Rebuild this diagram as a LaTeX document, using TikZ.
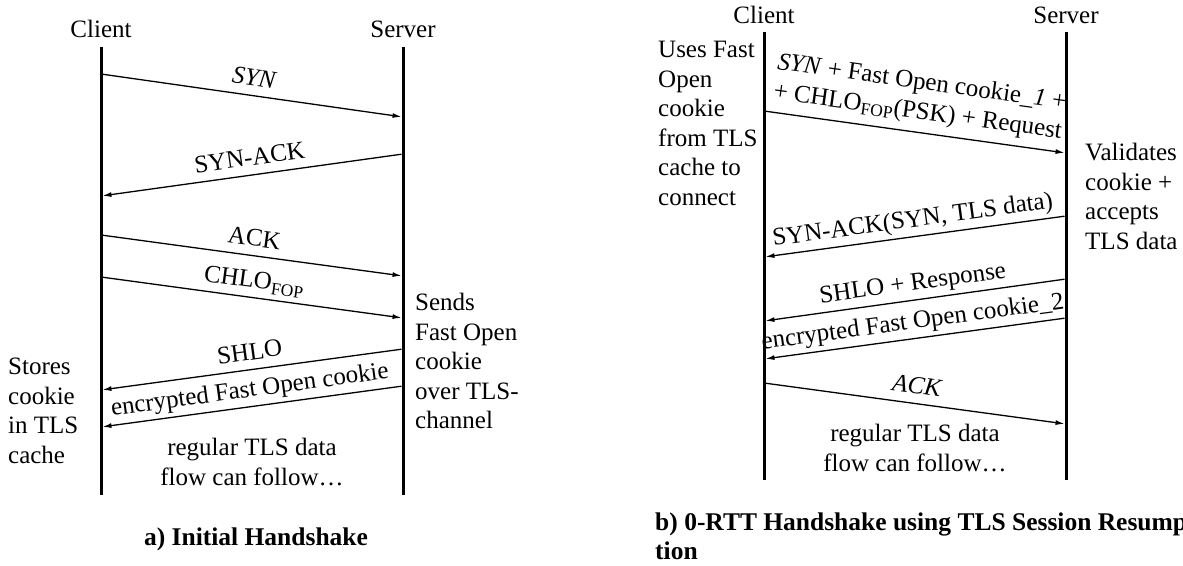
\documentclass[tikz,border=0pt]{standalone}
\usepackage{fontspec}
\setmainfont{Liberation Serif}
\usetikzlibrary{arrows.meta}

\begin{document}
\begin{tikzpicture}[x=1pt, y=-1pt,
    every node/.style={font=\fontsize{25}{29.5}\selectfont},
    party/.style={anchor=base, inner sep=0pt},
    lifeline/.style={line width=3pt},
    msg/.style={line width=1.3pt, shorten <=1.5pt, shorten >=1.5pt,
        -{Latex[length=9pt,width=5pt]}},
    msglabel/.style={sloped, above, inner sep=0pt, text depth=0pt, align=center},
    note/.style={anchor=north west, inner sep=0pt, align=left},
    flow/.style={anchor=north, inner sep=0pt, align=center},
    caption/.style={font=\fontsize{25.5}{29}\selectfont\bfseries, inner sep=0pt}]
    \useasboundingbox (0,0) rectangle (1183,565);

    % Draw parties for a) initial handshake
    \node[party] (aclient) at (101,37) {Client};
    \node[party] (aserver) at (403,37) {Server};
    \coordinate (actop) at (101,47);
    \coordinate (acbot) at (101,495);
    \coordinate (astop) at (403,47);
    \coordinate (asbot) at (403,495);
    \draw[lifeline] (actop) -- (acbot);
    \draw[lifeline] (astop) -- (asbot);

    % Message end points on the lifelines
    \coordinate (ac1) at (101,74);  \coordinate (as1) at (403,117);
    \coordinate (as2) at (403,154); \coordinate (ac2) at (101,196);
    \coordinate (ac3) at (101,235); \coordinate (as3) at (403,276);
    \coordinate (ac4) at (101,277); \coordinate (as4) at (403,318);
    \coordinate (as5) at (403,349); \coordinate (ac5) at (101,390);
    \coordinate (as6) at (403,386); \coordinate (ac6) at (101,427);

    % Draw messages of a)
    \draw[msg] (ac1) -- node[msglabel, above=9pt] {\textit{SYN}} (as1);
    \draw[msg] (as2) -- node[msglabel, above=9pt] {SYN-ACK} (ac2);
    \draw[msg] (ac3) -- node[msglabel, above=9pt] {ACK} (as3);
    \draw[msg] (ac4) -- node[msglabel, above=9pt] {CHLO\textsubscript{FOP}} (as4);
    \draw[msg] (as5) -- node[msglabel, above=9pt] {SHLO} (ac5);
    \draw[msg] (as6) -- node[msglabel, above=9pt] {encrypted Fast Open cookie} (ac6);

    % Notes of a)
    \node[note] (astores) at (8,358) {Stores\\cookie\\in TLS\\cache};
    \node[note] (asends) at (415,293) {Sends\\Fast Open\\cookie\\over TLS-\\channel};
    \node[flow] (aflow) at (252,438) {regular TLS data\\flow can follow\dots};
    \node[caption, anchor=base] (acap) at (256,545) {a) Initial Handshake};

    % Draw parties for b) 0-RTT handshake
    \node[party] (bclient) at (764,23) {Client};
    \node[party] (bserver) at (1066,23) {Server};
    \coordinate (bctop) at (764,32);
    \coordinate (bcbot) at (764,480);
    \coordinate (bstop) at (1066,32);
    \coordinate (bsbot) at (1066,480);
    \draw[lifeline] (bctop) -- (bcbot);
    \draw[lifeline] (bstop) -- (bsbot);

    % Message end points on the lifelines
    \coordinate (bc1) at (764,111);  \coordinate (bs1) at (1066,153);
    \coordinate (bs2) at (1066,216); \coordinate (bc2) at (764,257);
    \coordinate (bs3) at (1066,279); \coordinate (bc3) at (764,321);
    \coordinate (bs4) at (1066,318); \coordinate (bc4) at (764,359);
    \coordinate (bc5) at (764,383);  \coordinate (bs5) at (1066,424);

    % Draw messages of b)
    \draw[msg] (bc1) -- node[msglabel, above=13pt]
        {\textit{SYN} + Fast Open cookie\_\textit{1} +\\
         + CHLO\textsubscript{FOP}(PSK) + Request} (bs1);
    \draw[msg] (bs2) -- node[msglabel, above=9pt] {SYN-ACK(SYN, TLS data)} (bc2);
    \draw[msg] (bs3) -- node[msglabel, above=9pt] {SHLO + Response} (bc3);
    \draw[msg] (bs4) -- node[msglabel, above=9pt] {encrypted Fast Open cookie\_2} (bc4);
    \draw[msg] (bc5) -- node[msglabel, above=9pt] {\textit{ACK}} (bs5);

    % Notes of b)
    \node[note] (buses) at (658,41) {Uses Fast\\Open\\cookie\\from TLS\\cache to\\connect};
    \node[note] (bvalid) at (1085,143) {Validates\\cookie +\\accepts\\TLS data};
    \node[flow] (bflow) at (915,424) {regular TLS data\\flow can follow\dots};
    \node[caption, anchor=north west, align=left] (bcap) at (655,513)
        {b) 0-RTT Handshake using TLS Session Resump-\\tion};
\end{tikzpicture}
\end{document}
